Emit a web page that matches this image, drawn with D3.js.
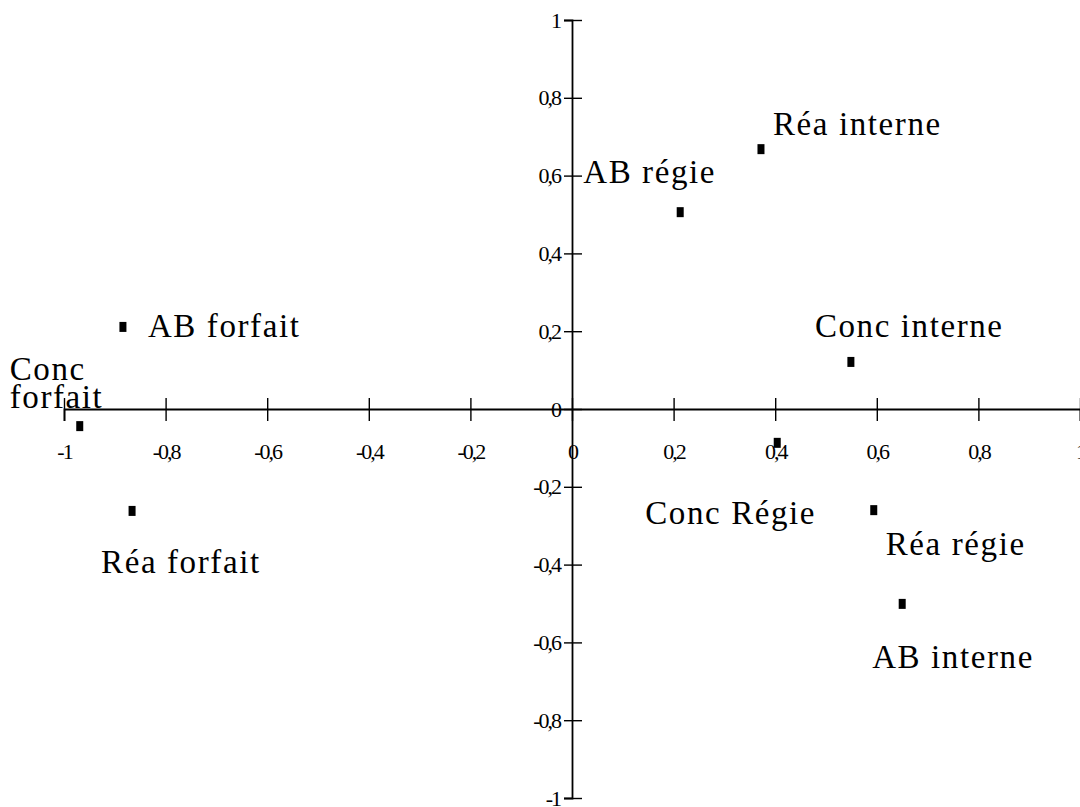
<!DOCTYPE html>
<html>
<head>
<meta charset="utf-8">
<script src="https://cdn.jsdelivr.net/npm/d3@7"></script>
<style>
  html, body { margin: 0; padding: 0; background: #fff; }
  svg { display: block; }
  text { font-family: "Liberation Serif", "Times New Roman", serif; fill: #000; }
</style>
</head>
<body>
<svg id="chart" width="1080" height="807"></svg>
<script>
// ---- data ----
const names = ["Réa interne", "AB régie", "AB forfait", "Conc forfait", "Réa forfait",
               "Conc interne", "Conc Régie", "Réa régie", "AB interne"];
const xValues = [0.372, 0.213, -0.884, -0.969, -0.866, 0.549, 0.404, 0.594, 0.650];
const yValues = [0.668, 0.506, 0.211, -0.044, -0.262, 0.121, -0.087, -0.260, -0.501];
const tickValues = [-1, -0.8, -0.6, -0.4, -0.2, 0, 0.2, 0.4, 0.6, 0.8, 1];
const tickLabels = ["-1", "-0,8", "-0,6", "-0,4", "-0,2", "0", "0,2", "0,4", "0,6", "0,8", "1"];

// ---- layout (label placement relative to each point, in px) ----
const labelLayout = {
  "Réa interne":  [{t: "Réa interne", dx: 12, dy: -14}],
  "AB régie":     [{t: "AB régie", dx: -97, dy: -29}],
  "AB forfait":   [{t: "AB forfait", dx: 25, dy: 10}],
  "Conc forfait": [{t: "Conc", dx: -70, dy: -46}, {t: "forfait", dx: -70, dy: -18}],
  "Réa forfait":  [{t: "Réa forfait", dx: -31, dy: 62}],
  "Conc interne": [{t: "Conc interne", dx: -36, dy: -25}],
  "Conc Régie":   [{t: "Conc Régie", dx: -132, dy: 81}],
  "Réa régie":    [{t: "Réa régie", dx: 12, dy: 45}],
  "AB interne":   [{t: "AB interne", dx: -30, dy: 64}]
};

const svg = d3.select("#chart");
const x = d3.scaleLinear().domain([-1, 1]).range([64, 1080]);
const y = d3.scaleLinear().domain([-1, 1]).range([798, 20]);

const fmt = d => tickLabels[tickValues.indexOf(d)];
const tickFont = '"Liberation Serif", "Times New Roman", serif';

// X axis through y=0
const gx = svg.append("g").attr("transform", `translate(0,${y(0)})`)
  .call(d3.axisBottom(x).tickValues(tickValues).tickFormat(fmt).tickSizeOuter(0).tickSize(12).tickPadding(0))
  .attr("font-family", tickFont).attr("font-size", 22);
gx.select(".domain").attr("stroke", "#000").attr("stroke-width", 1.8);
gx.selectAll(".tick line").attr("y1", -11).attr("y2", 12).attr("stroke", "#000").attr("stroke-width", 1.4);
gx.selectAll(".tick text").attr("y", 50).attr("dy", 0)
  .style("font-family", tickFont).style("font-size", "22px").style("letter-spacing", "-2px")
  .attr("fill", "#000");

// Y axis through x=0
const gy = svg.append("g").attr("transform", `translate(${x(0)},0)`)
  .call(d3.axisLeft(y).tickValues(tickValues).tickFormat(fmt).tickSizeOuter(0).tickSize(8).tickPadding(0))
  .attr("font-family", tickFont).attr("font-size", 22);
gy.select(".domain").attr("stroke", "#000").attr("stroke-width", 1.8);
gy.selectAll(".tick line").attr("x1", -8).attr("x2", 10).attr("stroke", "#000").attr("stroke-width", 1.4);
gy.selectAll(".tick text").attr("x", -12).attr("dy", "0.32em")
  .style("font-family", tickFont).style("font-size", "22px").style("letter-spacing", "-2px")
  .attr("fill", "#000");

// points
const pts = names.map((n, i) => ({name: n, x: xValues[i], y: yValues[i]}));
svg.append("g").selectAll("rect").data(pts).join("rect")
  .attr("x", d => x(d.x) - 3.5).attr("y", d => y(d.y) - 5)
  .attr("width", 7).attr("height", 10).attr("fill", "#000");

// labels
const lbl = svg.append("g");
pts.forEach(d => {
  labelLayout[d.name].forEach(l => {
    lbl.append("text")
      .attr("x", x(d.x) + l.dx).attr("y", y(d.y) + l.dy)
      .style("font-size", "33px")
      .style("letter-spacing", "1.6px")
      .text(l.t);
  });
});
</script>
</body>
</html>
